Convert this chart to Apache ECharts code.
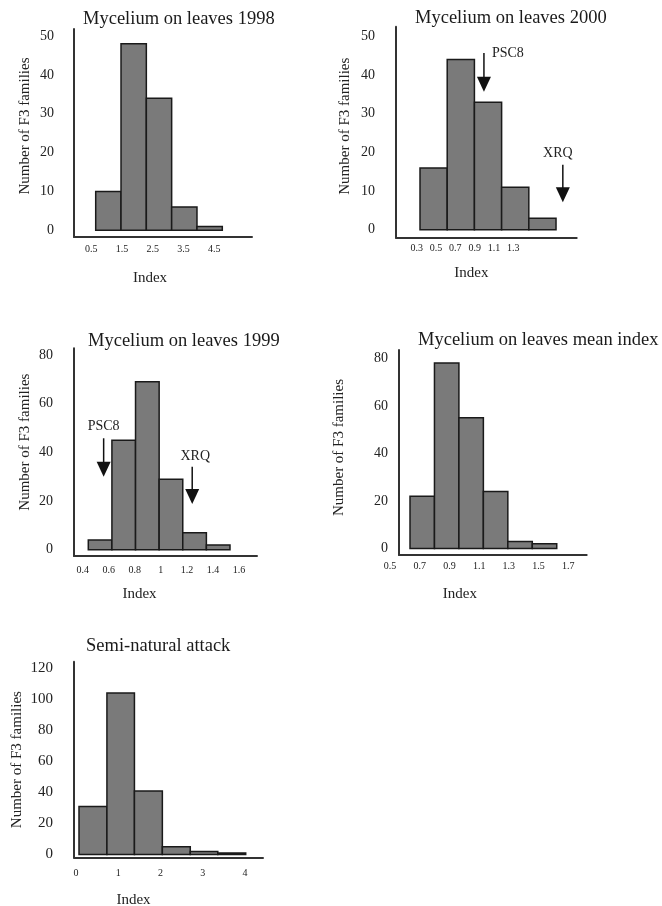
<!DOCTYPE html>
<html>
<head>
<meta charset="utf-8">
<script src="https://cdn.jsdelivr.net/npm/echarts@6/dist/echarts.min.js"></script>
<style>
  html, body { margin: 0; background: #fff; }
  #chart { width: 662px; height: 906px; }
</style>
</head>
<body>
<div id="chart"></div>
<script>
// histogram data: bin edges (index), counts per bin, axis tick labels
const bins1998 = [0, 1, 2, 3, 4, 5];
const counts1998 = [10, 48, 34, 6, 1];
const ticks1998 = [0.5, 1.5, 2.5, 3.5, 4.5];
const yTicks1998 = [0, 10, 20, 30, 40, 50];

const bins2000 = [0.3, 0.5, 0.7, 0.9, 1.1, 1.3];
const counts2000 = [16, 44, 33, 11, 3];
const ticks2000 = [0.3, 0.5, 0.7, 0.9, 1.1, 1.3];
const yTicks2000 = [0, 10, 20, 30, 40, 50];
const parents2000 = ['PSC8', 'XRQ'];
const parentIndex2000 = [0.77, 1.35];

const bins1999 = [0.4, 0.6, 0.8, 1.0, 1.2, 1.4, 1.6];
const counts1999 = [4, 45, 69, 29, 7, 2];
const ticks1999 = [0.4, 0.6, 0.8, 1, 1.2, 1.4, 1.6];
const yTicks1999 = [0, 20, 40, 60, 80];
const parents1999 = ['PSC8', 'XRQ'];
const parentIndex1999 = [0.53, 1.28];

const binsMean = [0.6, 0.8, 1.0, 1.2, 1.4, 1.6, 1.8];
const countsMean = [22, 78, 55, 24, 3, 2];
const ticksMean = [0.5, 0.7, 0.9, 1.1, 1.3, 1.5, 1.7];
const yTicksMean = [0, 20, 40, 60, 80];

const binsSemi = [0, 0.67, 1.33, 2, 2.67, 3.33, 4];
const countsSemi = [31, 104, 41, 5, 2, 1];
const ticksSemi = [0, 1, 2, 3, 4];
const yTicksSemi = [0, 20, 40, 60, 80, 100, 120];

const FONT = '"Liberation Serif", "DejaVu Serif", serif';
const TEXT = '#222';
const LINE = '#333';

// layout of each panel: box = [left, top, width, height] of the plot,
// barRange / labelRange = x extents of bar scale and tick-label scale
const panels = [
  {
    title: 'Mycelium on leaves 1998', titlePos: [83, 10],
    bins: bins1998, counts: counts1998, ticks: ticks1998, yTicks: yTicks1998,
    parents: [], parentIndex: [], arrows: [],
    box: [74, 29, 178, 208], yRange: [-1.72, 51.8], barRange: [-0.857, 6.173],
    labelBox: [74, 178], labelRange: [-0.063, 5.726], labelMargin: 7,
    yLabelMargin: 20, yFont: 14, yNameGap: 41, yNameShift: 7, xNameGap: 34, xNameShift: 13
  },
  {
    title: 'Mycelium on leaves 2000', titlePos: [415, 9],
    bins: bins2000, counts: counts2000, ticks: ticks2000, yTicks: yTicks2000,
    parents: parents2000, parentIndex: parentIndex2000,
    // [top value, tip value, label dx, label dy, align]
    arrows: [[45.7, 35.7, 8, 0, 'left'], [16.8, 7.1, -5, -11, 'center']],
    box: [396, 26.7, 180.7, 211], yRange: [-2.04, 52.5], barRange: [0.1235, 1.452],
    labelBox: [396, 180.7], labelRange: [0.0857, 1.956], labelMargin: 6,
    yLabelMargin: 21, yFont: 14, yNameGap: 43, yNameShift: 6, xNameGap: 28, xNameShift: 15
  },
  {
    title: 'Mycelium on leaves 1999', titlePos: [88, 332],
    bins: bins1999, counts: counts1999, ticks: ticks1999, yTicks: yTicks1999,
    parents: parents1999, parentIndex: parentIndex1999,
    arrows: [[45.8, 30.0, 0, -12, 'center'], [34.1, 18.8, 3, -10, 'center']],
    box: [74, 348.3, 183, 207.7], yRange: [-2.55, 82.75], barRange: [0.2789, 1.8287],
    labelBox: [74, 183], labelRange: [0.3332, 1.738], labelMargin: 9,
    yLabelMargin: 21, yFont: 14, yNameGap: 41, yNameShift: 10, xNameGap: 31, xNameShift: 26
  },
  {
    title: 'Mycelium on leaves mean index', titlePos: [418, 331],
    bins: binsMean, counts: countsMean, ticks: ticksMean, yTicks: yTicksMean,
    parents: [], parentIndex: [], arrows: [],
    box: [399, 350, 187.7, 205], yRange: [-2.73, 83.5], barRange: [0.51, 2.045],
    labelBox: [380, 210], labelRange: [0.4327, 1.846], labelMargin: 6,
    yLabelMargin: 11, yFont: 14, yNameGap: 52, yNameShift: 5, xNameGap: 32, xNameShift: 33
  },
  {
    title: 'Semi-natural attack', titlePos: [86, 637],
    bins: binsSemi, counts: countsSemi, ticks: ticksSemi, yTicks: yTicksSemi,
    parents: [], parentIndex: [], arrows: [],
    box: [74, 661.7, 189, 195.8], yRange: [-1.93, 124.25], barRange: [-0.12, 4.415],
    labelBox: [74, 189], labelRange: [-0.0473, 4.426], labelMargin: 11,
    yLabelMargin: 21, yFont: 15, yNameGap: 49, yNameShift: 0, xNameGap: 35, xNameShift: 35
  }
];

function renderBar(params, api) {
  const a = api.coord([api.value(0), api.value(2)]);
  const b = api.coord([api.value(1), 0]);
  return {
    type: 'rect',
    shape: { x: a[0], y: a[1], width: b[0] - a[0], height: b[1] - a[1] },
    style: { fill: '#7a7a7a', stroke: '#1a1a1a', lineWidth: 1.5 }
  };
}

function makeArrowRenderer(p) {
  return function (params, api) {
    const i = params.dataIndex;
    const lay = p.arrows[i];
    const top = api.coord([api.value(0), api.value(1)]);
    const tip = api.coord([api.value(0), api.value(2)]);
    const head = 15;
    return {
      type: 'group',
      children: [
        { type: 'line', shape: { x1: top[0], y1: top[1], x2: tip[0], y2: tip[1] - head + 1 },
          style: { stroke: '#111', lineWidth: 1.5 } },
        { type: 'polygon', shape: { points: [[tip[0] - 7, tip[1] - head], [tip[0] + 7, tip[1] - head], [tip[0], tip[1]]] },
          style: { fill: '#111' } },
        { type: 'text', x: top[0] + lay[2], y: top[1] + lay[3],
          style: { text: p.parents[i], font: '14px ' + FONT, fill: TEXT, align: lay[4], verticalAlign: 'middle' } }
      ]
    };
  };
}

const grids = [], xAxes = [], yAxes = [], series = [], titles = [];

panels.forEach(function (p) {
  const gi = grids.length;
  grids.push({ left: p.box[0], top: p.box[1], width: p.box[2], height: p.box[3], outerBoundsMode: 'none' });
  grids.push({ left: p.labelBox[0], top: p.box[1], width: p.labelBox[1], height: p.box[3], outerBoundsMode: 'none' });

  // bar scale, carries the visible x axis line and the "Index" name
  xAxes.push({
    gridIndex: gi, type: 'value', min: p.barRange[0], max: p.barRange[1],
    axisLine: { show: true, onZero: false, lineStyle: { color: LINE, width: 2 } },
    axisTick: { show: false }, axisLabel: { show: false }, splitLine: { show: false },
    name: 'Index', nameLocation: 'middle', nameGap: p.xNameGap,
    nameTextStyle: { fontFamily: FONT, fontSize: 15, color: TEXT, padding: [0, 2 * p.xNameShift, 0, 0] }
  });
  // tick-label scale
  xAxes.push({
    gridIndex: gi + 1, type: 'value', min: p.labelRange[0], max: p.labelRange[1],
    axisLine: { show: false }, axisTick: { show: false }, splitLine: { show: false },
    axisLabel: { customValues: p.ticks, margin: p.labelMargin, fontFamily: FONT, fontSize: 10, color: TEXT }
  });
  yAxes.push({
    gridIndex: gi, type: 'value', min: p.yRange[0], max: p.yRange[1],
    axisLine: { show: true, onZero: false, lineStyle: { color: LINE, width: 2 } },
    axisTick: { show: false }, splitLine: { show: false },
    axisLabel: { customValues: p.yTicks, margin: p.yLabelMargin, fontFamily: FONT, fontSize: p.yFont, color: TEXT },
    name: 'Number of F3 families', nameLocation: 'middle', nameGap: p.yNameGap,
    nameTextStyle: { fontFamily: FONT, fontSize: 15, color: TEXT, padding: [0, 0, 0, 2 * p.yNameShift] }
  });
  yAxes.push({ gridIndex: gi + 1, type: 'value', show: false, min: 0, max: 1 });

  series.push({
    type: 'custom', xAxisIndex: gi, yAxisIndex: gi, renderItem: renderBar, silent: true,
    encode: { x: [0, 1], y: 2 },
    data: p.counts.map(function (c, i) { return [p.bins[i], p.bins[i + 1], c]; })
  });
  if (p.parents.length) {
    series.push({
      type: 'custom', xAxisIndex: gi, yAxisIndex: gi, renderItem: makeArrowRenderer(p), silent: true,
      encode: { x: 0, y: [1, 2] },
      data: p.parentIndex.map(function (x, i) { return [x, p.arrows[i][0], p.arrows[i][1]]; })
    });
  }
  titles.push({
    text: p.title, left: p.titlePos[0], top: p.titlePos[1], padding: 0,
    textStyle: { fontFamily: FONT, fontSize: 18.5, fontWeight: 'normal', color: '#1a1a1a' }
  });
});

const chart = echarts.init(document.getElementById('chart'));
chart.setOption({
  backgroundColor: '#fff',
  animation: false,
  title: titles,
  grid: grids,
  xAxis: xAxes,
  yAxis: yAxes,
  series: series
});
window.addEventListener('resize', function () { chart.resize(); });
</script>
</body>
</html>
